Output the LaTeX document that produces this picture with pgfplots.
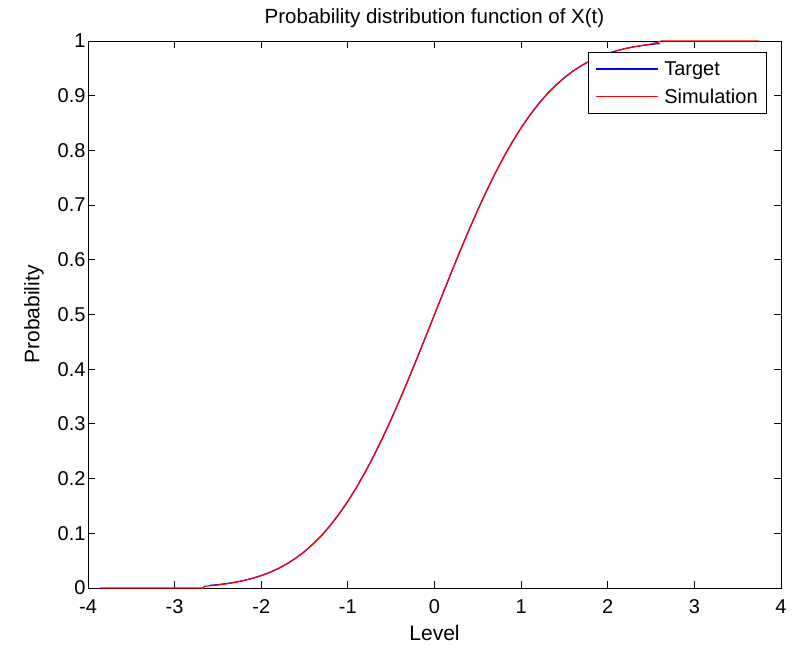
\documentclass[border=0pt]{standalone}
\usepackage{pgfplots}
\pgfplotsset{compat=1.18}
\usepackage{fontspec}
\setmainfont{Liberation Sans}
\begin{document}
\begin{tikzpicture}[x=1pt,y=1pt]
\begin{axis}[
  at={(0,0)}, anchor=south west,
  scale only axis, width=693pt, height=547pt,
  xmin=-4, xmax=4, ymin=0, ymax=1,
  xtick={-4,-3,...,4}, ytick={0,0.1,...,1},
  yticklabels={0,0.1,0.2,0.3,0.4,0.5,0.6,0.7,0.8,0.9,1},
  /pgf/number format/assume math mode=true,
  tick align=inside, major tick length=7pt,
  tick style={black, line width=0.9pt},
  axis line style={black, line width=0.9pt},
  ticklabel style={font=\fontsize{20}{22}\selectfont},
  xticklabel style={yshift=-8pt},
  yticklabel style={xshift=1pt},
  title={Probability distribution function of X(t)},
  title style={font=\fontsize{20.5}{22}\selectfont, yshift=4pt},
  xlabel={Level}, ylabel={Probability},
  label style={font=\fontsize{21}{23}\selectfont},
  xlabel style={yshift=-5pt},
  ylabel style={yshift=7pt},
  legend style={at={(0.98,0.98)}, anchor=north east, draw=black, line width=0.9pt,
    font=\fontsize{20}{22}\selectfont, row sep=8pt, inner xsep=7pt, inner ysep=7pt},
  legend cell align=left,
  legend image code/.code={\draw[#1] (0pt,0pt) -- (62pt,0pt); \path (66pt,0pt);},
]
\addplot[blue, line width=1.2pt] coordinates {
(-2.6,0.0047)(-2.5,0.0062)(-2.4,0.0082)(-2.3,0.0107)(-2.2,0.0139)(-2.1,0.0179)(-2.0,0.0228)
(-1.9,0.0287)(-1.8,0.0359)(-1.7,0.0446)(-1.6,0.0548)(-1.5,0.0668)(-1.4,0.0808)(-1.3,0.0968)
(-1.2,0.1151)(-1.1,0.1357)(-1.0,0.1587)(-0.9,0.1841)(-0.8,0.2119)(-0.7,0.2420)(-0.6,0.2743)
(-0.5,0.3085)(-0.4,0.3446)(-0.3,0.3821)(-0.2,0.4207)(-0.1,0.4602)(0,0.5)
(0.1,0.5398)(0.2,0.5793)(0.3,0.6179)(0.4,0.6554)(0.5,0.6915)(0.6,0.7257)(0.7,0.7580)
(0.8,0.7881)(0.9,0.8159)(1.0,0.8413)(1.1,0.8643)(1.2,0.8849)(1.3,0.9032)(1.4,0.9192)
(1.5,0.9332)(1.6,0.9452)(1.7,0.9554)(1.8,0.9641)(1.9,0.9713)(2.0,0.9772)(2.1,0.9821)
(2.2,0.9861)(2.3,0.9893)(2.4,0.9918)(2.5,0.9938)(2.6,0.9953)};
\addlegendentry{Target}
\addplot[red, line width=1.2pt] coordinates {
(-3.86,0)(-2.67,0)(-2.66,0.003)(-2.5,0.0055)(-2.4,0.0076)(-2.3,0.0102)(-2.2,0.0136)(-2.1,0.0176)
(-2.0,0.0226)(-1.9,0.0284)(-1.8,0.0357)(-1.7,0.0442)(-1.6,0.0546)(-1.5,0.0665)(-1.4,0.0806)
(-1.3,0.0965)(-1.2,0.1148)(-1.1,0.1355)(-1.0,0.1585)(-0.9,0.1838)(-0.8,0.2116)(-0.7,0.2418)
(-0.6,0.2740)(-0.5,0.3083)(-0.4,0.3444)(-0.3,0.3819)(-0.2,0.4205)(-0.1,0.4600)(0,0.4998)
(0.1,0.5396)(0.2,0.5791)(0.3,0.6177)(0.4,0.6552)(0.5,0.6913)(0.6,0.7255)(0.7,0.7578)
(0.8,0.7879)(0.9,0.8157)(1.0,0.8411)(1.1,0.8641)(1.2,0.8847)(1.3,0.9030)(1.4,0.9190)
(1.5,0.9330)(1.6,0.9450)(1.7,0.9552)(1.8,0.9640)(1.9,0.9712)(2.0,0.9771)(2.1,0.9820)
(2.2,0.9860)(2.3,0.9893)(2.4,0.9920)(2.5,0.9945)(2.57,0.9975)(2.62,1)(3.75,1)};
\addlegendentry{Simulation}
\end{axis}
\path (-88,-57) rectangle (704,588);
\end{tikzpicture}
\end{document}
